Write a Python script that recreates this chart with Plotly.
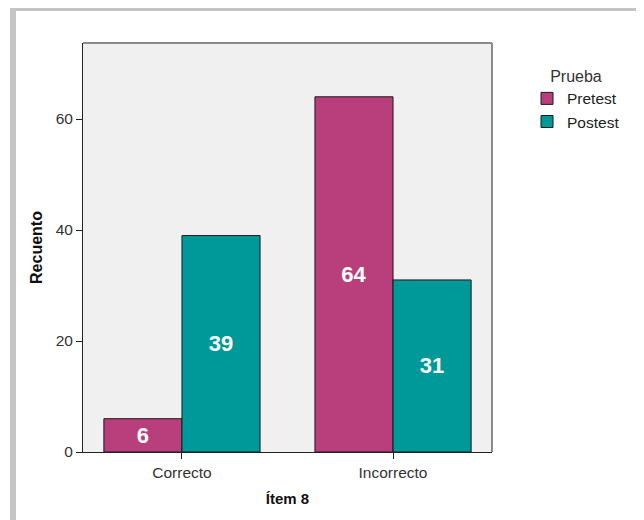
import plotly.graph_objects as go

categories = ["Correcto", "Incorrecto"]
pretest = [6, 64]
postest = [39, 31]
series_names = ["Pretest", "Postest"]
y_ticks = [0, 20, 40, 60]

OFF = 8  # page body margin
W, H = 644 - OFF, 520 - OFF
L, R, T, B = 83 - OFF, 492 - OFF, 43 - OFF, 452 - OFF
pw, ph = R - L, B - T

def px(x):
    return (x - OFF - L) / pw

def py(y):
    return (B - (y - OFF)) / ph

fig = go.Figure()
colors = ["#B93E7C", "#009999"]
for name, vals, col in zip(series_names, [pretest, postest], colors):
    fig.add_trace(go.Bar(
        name=name, x=categories, y=vals,
        marker=dict(color=col, line=dict(color="#1a1a1a", width=1)),
        text=[str(v) for v in vals], textposition="inside",
        insidetextanchor="middle", textangle=0,
        textfont=dict(family="Liberation Sans, Arial", size=22, color="white", weight="bold"),
    ))

shapes = [
    dict(type="rect", xref="paper", yref="paper", x0=px(10), x1=px(16), y0=py(530), y1=py(5),
         fillcolor="#C4C4C4", line_width=0, layer="below"),
    dict(type="rect", xref="paper", yref="paper", x0=px(10), x1=px(650), y0=py(11), y1=py(5),
         fillcolor="#C4C4C4", line_width=0, layer="below"),
    dict(type="line", xref="paper", yref="paper", x0=0, x1=1, y0=1, y1=1,
         line=dict(color="#8a8a8a", width=2)),
    dict(type="line", xref="paper", yref="paper", x0=1, x1=1, y0=0, y1=1,
         line=dict(color="#8a8a8a", width=2)),
]

fig.update_layout(
    width=W, height=H,
    margin=dict(l=L, r=W - R, t=T, b=H - B, autoexpand=False),
    paper_bgcolor="white", plot_bgcolor="#F0F0F0",
    barmode="group", bargap=0.26, bargroupgap=0,
    font=dict(family="Liberation Sans, Arial", size=15, color="#222"),
    showlegend=True,
    legend=dict(
        title=dict(text="Prueba", side="top center", font=dict(size=16, color="#333")),
        x=px(527), y=py(61), xanchor="left", yanchor="top",
        font=dict(size=15.5, color="#222"), tracegroupgap=0,
        itemwidth=30, bgcolor="rgba(0,0,0,0)",
    ),
    shapes=shapes,
    xaxis=dict(
        range=[-0.469, 1.469], showgrid=False, zeroline=False,
        ticks="outside", ticklen=6, tickcolor="#222", showline=True, linecolor="#222",
        linewidth=1, tickfont=dict(size=15.5, color="#333"),
        title=dict(text="<b>Ítem 8</b>", font=dict(size=15, color="#111"), standoff=13),
    ),
    yaxis=dict(
        range=[0, 409 / 5.55], tickvals=y_ticks, showgrid=False, zeroline=False,
        ticks="outside", ticklen=6, tickcolor="#222", showline=True, linecolor="#222",
        linewidth=1, tickfont=dict(size=15.5, color="#333"),
        title=dict(text="<b>Recuento</b>", font=dict(size=16, color="#111"), standoff=9),
    ),
)

fig.write_html("out.html")
